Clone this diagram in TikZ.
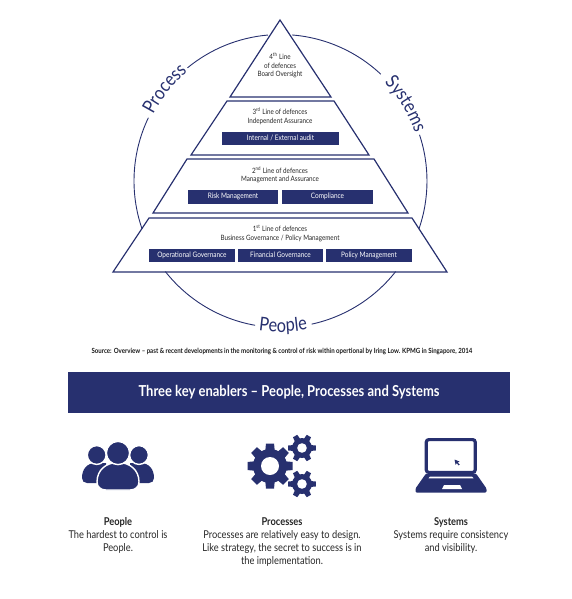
\documentclass[tikz,border=0pt]{standalone}
\usepackage{fontspec}
\setmainfont[FakeStretch=0.86]{Lato}
\usetikzlibrary{decorations.text,calc}
\definecolor{navy}{HTML}{27306F}
\newcommand{\sz}[2]{\fontsize{#1}{#2}\selectfont}
\newcommand{\gearicon}[6]{% x,y,outer,hole,body,step
  \fill[navy] (#1,-#2) circle[radius=#5];
  \foreach \a in {0,#6,...,359}{
    \fill[navy,shift={(#1,-#2)},rotate=\a] (0,-#3*0.27) -- (#3,-#3*0.18) -- (#3,#3*0.18) -- (0,#3*0.27) -- cycle;
  }
  \fill[white] (#1,-#2) circle[radius=#4];
}
\tikzset{
  x=1pt,y=1pt,
  tier/.style={draw=navy,line width=1.2pt,line join=miter},
  ring/.style={draw=navy,line width=0.9pt},
  bluebox/.style={fill=navy,text=white,inner sep=0pt,anchor=center,text height=5.4pt,text depth=1.6pt,font=\sz{7.5}{8}},
  tiertext/.style={text=black!85,align=center,inner sep=0pt,font=\sz{7.3}{8.5}},
  arcword/.style={decorate,decoration={text along path,text align=center,text color=navy,
     text={|\sz{19}{20}|#1}}},
  capt/.style={align=center,inner sep=0pt,anchor=north,text=black!85,font=\sz{10.8}{13}},
}
\begin{document}
\begin{tikzpicture}
\useasboundingbox (0,0) rectangle (571,-599);
\coordinate (c) at (280.5,-181);
% ring
\draw[ring] ([shift={(c)}]94.9:146.5) arc[start angle=94.9,end angle=129.4,radius=146.5];
\draw[ring] ([shift={(c)}]154.4:146.5) arc[start angle=154.4,end angle=199.1,radius=146.5];
\draw[ring] ([shift={(c)}]218.2:146.5) arc[start angle=218.2,end angle=260,radius=146.5];
\draw[ring] ([shift={(c)}]282.3:146.5) arc[start angle=282.3,end angle=321.8,radius=146.5];
\draw[ring] ([shift={(c)}]-19.1:146.5) arc[start angle=-19.1,end angle=18.4,radius=146.5];
\draw[ring] ([shift={(c)}]46.8:146.5) arc[start angle=46.8,end angle=85.5,radius=146.5];
% ring words
\path[arcword=Process] ([shift={(c)}]164:143.5) arc[start angle=164,end angle=119,radius=143.5];
\path[arcword=Systems] ([shift={(c)}]54:143) arc[start angle=54,end angle=9,radius=143];
\path[arcword=People] ([shift={(c)}]250:151) arc[start angle=250,end angle=292,radius=151];
% tiers
\draw[tier] (280,-20) -- (331,-97) -- (230,-97) -- cycle;
\draw[tier] (227,-101) -- (334,-101) -- (369,-155) -- (191,-155) -- cycle;
\draw[tier] (187,-159) -- (374,-159) -- (408,-213) -- (153,-213) -- cycle;
\draw[tier] (149,-218) -- (412,-218) -- (447,-272) -- (113,-272) -- cycle;
% tier texts
\node[tiertext] (t4) at (280,-65.5) {4\textsuperscript{th} Line\\of defences\\Board Oversight};
\node[tiertext] (t3) at (280,-116) {3\textsuperscript{rd} Line of defences\\Independent Assurance};
\node[tiertext] (t2) at (280,-175) {2\textsuperscript{nd} Line of defences\\Management and Assurance};
\node[tiertext] (t1) at (280,-233.3) {1\textsuperscript{st} Line of defences\\Business Governance / Policy Management};
% boxes
\node[bluebox,minimum width=117pt,minimum height=13.5pt] (b31) at (280.5,-138.5) {Internal / External audit};
\node[bluebox,minimum width=90pt,minimum height=14pt] (b21) at (233,-197) {Risk Management};
\node[bluebox,minimum width=91pt,minimum height=14pt] (b22) at (327.5,-197) {Compliance};
\node[bluebox,minimum width=86pt,minimum height=13.5pt] (b11) at (192,-255.5) {Operational Governance};
\node[bluebox,minimum width=85pt,minimum height=13.5pt] (b12) at (280.5,-255.5) {Financial Governance};
\node[bluebox,minimum width=86pt,minimum height=13.5pt] (b13) at (369,-255.5) {Policy Management};
% source
\node[inner sep=0pt,text=black!90,font=\sz{7.1}{8}\bfseries] (src) at (282,-351.5) {Source: Overview -- past \& recent developments in the monitoring \& control of risk within opertional by Iring Low. KPMG in Singapore, 2014};
% banner
\node[fill=navy,text=white,minimum width=442pt,minimum height=41pt,inner sep=0pt,font=\sz{15.1}{16}\bfseries] (banner) at (289,-392.5) {Three key enablers -- People, Processes and Systems};
% people icon
\fill[navy] (82,-478) .. controls (82,-469) and (87,-463) .. (96,-463) -- (106,-463) -- (106,-483) -- (87,-483) .. controls (84,-483) and (82,-481) .. (82,-478) -- cycle;
\fill[navy] (154,-478) .. controls (154,-469) and (149,-463) .. (140,-463) -- (130,-463) -- (130,-483) -- (149,-483) .. controls (152,-483) and (154,-481) .. (154,-478) -- cycle;
\filldraw[fill=navy,draw=white,line width=1.4pt] (96.7,-455) circle[radius=9.4];
\filldraw[fill=navy,draw=white,line width=1.4pt] (139,-455) circle[radius=9.4];
\filldraw[fill=navy,draw=white,line width=1.4pt] (97,-482) .. controls (97,-470) and (106,-462.5) .. (118,-462.5) .. controls (130,-462.5) and (139,-470) .. (139,-482) .. controls (139,-487) and (135,-490) .. (130,-490) -- (106,-490) .. controls (101,-490) and (97,-487) .. (97,-482) -- cycle;
\filldraw[fill=navy,draw=white,line width=1.4pt] (118,-453) circle[radius=11.6];
% gears
\gearicon{270}{466}{22.5}{9}{17}{45}
\gearicon{302}{448}{13.8}{4.8}{10}{60}
\gearicon{302}{484}{13.8}{4.8}{10}{60}
% laptop
\draw[navy,line width=3.2pt,rounded corners=2.5pt] (426.3,-439.6) rectangle (475.2,-472.4);
\fill[navy,rounded corners=1.2pt] (426,-473.5) -- (476,-473.5) -- (486.5,-488.5) -- (486.5,-492.5) -- (415.5,-492.5) -- (415.5,-488.5) -- cycle;
\fill[white] (430,-476.5) -- (472,-476.5) -- (473.5,-478.3) -- (428.5,-478.3) -- cycle;
\fill[white] (444,-485) -- (460,-485) -- (462,-489) -- (442,-489) -- cycle;
\fill[navy] (454.5,-459.5) -- (459.5,-461.5) -- (457.8,-462.6) -- (459.8,-464.6) -- (458.6,-465.4) -- (456.8,-463.2) -- (455.6,-464.8) -- cycle;
% captions
\node[capt] (cap1) at (118,-517) {{\bfseries People}\\The hardest to control is\\People.};
\node[capt] (cap2) at (282,-517) {{\bfseries Processes}\\Processes are relatively easy to design.\\Like strategy, the secret to success is in\\the implementation.};
\node[capt] (cap3) at (451,-517) {{\bfseries Systems}\\Systems require consistency\\and visibility.};
\end{tikzpicture}
\end{document}
